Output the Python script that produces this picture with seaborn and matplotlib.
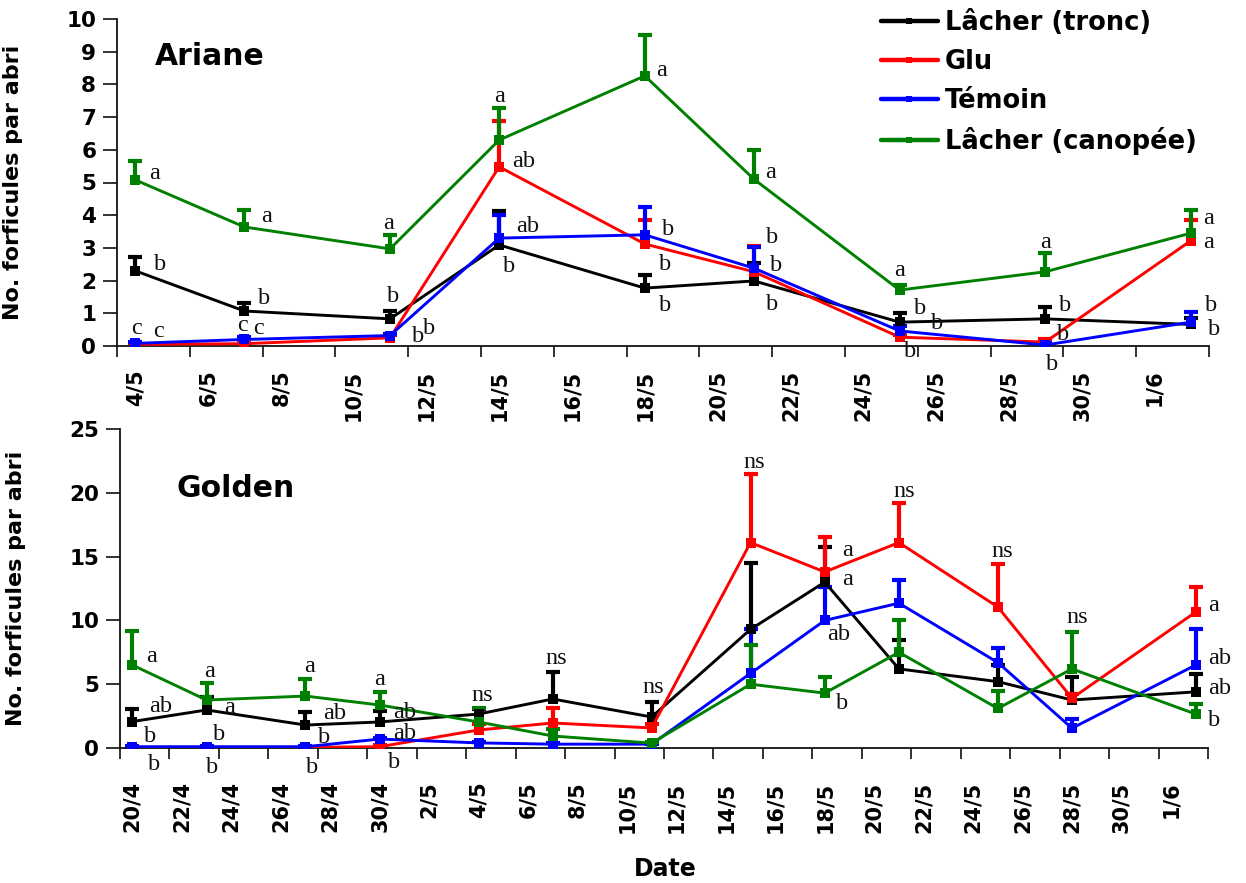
import numpy as np
import pandas as pd
import matplotlib
matplotlib.use("Agg")
import matplotlib.pyplot as plt
import seaborn as sns

# ---------------- data ----------------
series_names = ["Lâcher (tronc)", "Glu", "Témoin", "Lâcher (canopée)"]
series_colors = ["#000000", "#FF0000", "#0000FF", "#008000"]

# Ariane (top panel)
ariane_dates = ["4/5", "7/5", "11/5", "14/5", "18/5", "21/5", "25/5", "29/5", "2/6"]
ariane_tronc = [2.30, 1.07, 0.83, 3.09, 1.77, 1.99, 0.73, 0.83, 0.66]
ariane_tronc_err = [0.43, 0.23, 0.24, 1.05, 0.40, 0.54, 0.27, 0.37, 0.19]
ariane_glu = [0.05, 0.07, 0.25, 5.48, 3.12, 2.27, 0.27, 0.12, 3.22]
ariane_glu_err = [0.03, 0.03, 0.08, 1.40, 0.73, 0.79, 0.08, 0.08, 0.63]
ariane_temoin = [0.08, 0.20, 0.32, 3.30, 3.40, 2.38, 0.46, 0.03, 0.73]
ariane_temoin_err = [0.03, 0.06, 0.05, 0.70, 0.86, 0.65, 0.14, 0.05, 0.31]
ariane_canopee = [5.08, 3.64, 2.97, 6.30, 8.26, 5.10, 1.71, 2.27, 3.45]
ariane_canopee_err = [0.58, 0.52, 0.42, 0.98, 1.24, 0.90, 0.15, 0.57, 0.71]
ariane_ticklabels = ["4/5", "6/5", "8/5", "10/5", "12/5", "14/5", "16/5", "18/5",
                     "20/5", "22/5", "24/5", "26/5", "28/5", "30/5", "1/6"]
ariane_letters = [
    ("4/5", 5.29, 19, "a"), ("4/5", 2.48, 25, "b"), ("4/5", 0.55, 1, "c"), ("4/5", 0.43, 23, "c"),
    ("7/5", 3.95, 22, "a"), ("7/5", 1.44, 20, "b"), ("7/5", 0.64, -2, "c"), ("7/5", 0.52, 14, "c"),
    ("11/5", 3.76, -1, "a"), ("11/5", 1.50, 3, "b"), ("11/5", 0.28, 28, "b"), ("11/5", 0.55, 39, "b"),
    ("14/5", 7.62, 0, "a"), ("14/5", 5.63, 24, "ab"), ("14/5", 3.64, 28, "ab"), ("14/5", 2.42, 10, "b"),
    ("18/5", 8.41, 17, "a"), ("18/5", 3.55, 23, "b"), ("18/5", 2.48, 20, "b"), ("18/5", 1.25, 20, "b"),
    ("21/5", 5.32, 17, "a"), ("21/5", 3.33, 18, "b"), ("21/5", 2.45, 22, "b"), ("21/5", 1.28, 18, "b"),
    ("25/5", 2.32, 0, "a"), ("25/5", 1.16, 20, "b"), ("25/5", 0.70, 37, "b"), ("25/5", -0.18, 10, "b"),
    ("29/5", 3.18, 0, "a"), ("29/5", 1.25, 20, "b"), ("29/5", 0.34, 18, "b"), ("29/5", -0.58, 7, "b"),
    ("2/6", 3.91, 18, "a"), ("2/6", 3.18, 18, "a"), ("2/6", 1.25, 20, "b"), ("2/6", 0.49, 23, "b"),
]

# Golden (bottom panel)
golden_dates = ["20/4", "23/4", "27/4", "30/4", "4/5", "7/5", "11/5", "15/5", "18/5",
                "21/5", "25/5", "28/5", "2/6"]
golden_tronc = [2.07, 2.98, 1.80, 2.04, 2.66, 3.84, 2.43, 9.30, 13.00, 6.20, 5.20, 3.76, 4.40]
golden_tronc_err = [1.00, 1.00, 1.00, 0.86, 0.40, 2.12, 1.17, 5.20, 2.75, 2.26, 1.30, 1.80, 1.40]
golden_glu = [0.05, 0.05, 0.05, 0.10, 1.41, 1.96, 1.57, 16.10, 13.80, 16.10, 11.05, 3.90, 10.65]
golden_glu_err = [0.02, 0.02, 0.02, 0.10, 0.45, 1.17, 0.30, 5.40, 2.75, 3.10, 3.35, 0.30, 1.95]
golden_temoin = [0.10, 0.10, 0.10, 0.70, 0.40, 0.30, 0.30, 5.85, 10.00, 11.35, 6.70, 1.55, 6.50]
golden_temoin_err = [0.03, 0.03, 0.03, 0.10, 0.10, 0.10, 0.05, 3.45, 2.60, 1.85, 1.10, 0.75, 2.80]
golden_canopee = [6.50, 3.76, 4.07, 3.37, 2.04, 0.94, 0.38, 5.00, 4.30, 7.50, 3.10, 6.20, 2.66]
golden_canopee_err = [2.67, 1.34, 1.33, 1.03, 1.09, 0.55, 0.10, 3.07, 1.26, 2.50, 1.35, 2.90, 0.79]
golden_ticklabels = ["20/4", "22/4", "24/4", "26/4", "28/4", "30/4", "2/5", "4/5", "6/5", "8/5",
                     "10/5", "12/5", "14/5", "16/5", "18/5", "20/5", "22/5", "24/5", "26/5",
                     "28/5", "30/5", "1/6"]
golden_letters = [
    ("20/4", 7.21, 19, "a"), ("20/4", 3.29, 28, "ab"), ("20/4", 0.94, 18, "b"), ("20/4", -1.33, 22, "b"),
    ("23/4", 5.96, 3, "a"), ("23/4", 3.21, 23, "a"), ("23/4", 1.02, 13, "b"), ("23/4", -1.49, 6, "b"),
    ("27/4", 6.35, 4, "a"), ("27/4", 2.74, 29, "ab"), ("27/4", 0.86, 19, "b"), ("27/4", -1.49, 7, "b"),
    ("30/4", 5.33, 0, "a"), ("30/4", 2.82, 25, "ab"), ("30/4", 1.17, 25, "ab"), ("30/4", -1.17, 14, "b"),
    ("4/5", 4.15, 4, "ns"), ("7/5", 7.05, 4, "ns"), ("11/5", 4.78, 2, "ns"), ("15/5", 22.4, 4, "ns"),
    ("18/5", 15.5, 23, "a"), ("18/5", 13.17, 23, "a"), ("18/5", 8.86, 14, "ab"), ("18/5", 3.45, 17, "b"),
    ("21/5", 20.1, 5, "ns"), ("25/5", 15.4, 4, "ns"), ("28/5", 10.2, 5, "ns"),
    ("2/6", 11.2, 18, "a"), ("2/6", 7.05, 24, "ab"), ("2/6", 4.70, 24, "ab"), ("2/6", 2.12, 18, "b"),
]

YEAR = 2009


def day_num(s):
    d, m = (int(v) for v in s.split("/"))
    return pd.Timestamp(YEAR, m, d).dayofyear


def build_df(dates, values, errs):
    rows = []
    for name, vals, es in zip(series_names, values, errs):
        for d, v, e in zip(dates, vals, es):
            rows.append({"x": day_num(d) + 0.5, "value": v, "err": e, "series": name})
    return pd.DataFrame(rows)


sns.set_theme(style="white")
plt.rcParams["font.family"] = ["DejaVu Sans"]
plt.rcParams.update({"text.color": "black", "axes.labelcolor": "black",
                     "xtick.color": "black", "ytick.color": "black"})

fig = plt.figure(figsize=(12.46, 8.83), dpi=100)
ax1 = fig.add_axes([117 / 1246, 1 - 346 / 883, (1209 - 117) / 1246, (346 - 19) / 883])
ax2 = fig.add_axes([120 / 1246, 1 - 748 / 883, (1208 - 120) / 1246, (748 - 429) / 883])

palette = dict(zip(series_names, series_colors))

panels = [
    (ax1, ariane_dates, [ariane_tronc, ariane_glu, ariane_temoin, ariane_canopee],
     [ariane_tronc_err, ariane_glu_err, ariane_temoin_err, ariane_canopee_err],
     ariane_ticklabels, ariane_letters, "Ariane", (0, 10, 1), (0.085, 0.884), "4/5", "3/6"),
    (ax2, golden_dates, [golden_tronc, golden_glu, golden_temoin, golden_canopee],
     [golden_tronc_err, golden_glu_err, golden_temoin_err, golden_canopee_err],
     golden_ticklabels, golden_letters, "Golden", (0, 25, 5), (0.106, 0.815), "20/4", "3/6"),
]

for ax, dates, vals, errs, ticklabels, letters, title, ysp, tpos, xstart, xend in panels:
    df = build_df(dates, vals, errs)
    # error bars (upper only)
    for name in series_names:
        sub = df[df["series"] == name]
        eb = ax.errorbar(sub["x"], sub["value"], yerr=[np.zeros(len(sub)), sub["err"]],
                         fmt="none", ecolor=palette[name], elinewidth=3.0, capsize=5.2,
                         capthick=3.0, zorder=2)
        eb[1][0].set_visible(False)
    sns.lineplot(data=df, x="x", y="value", hue="series", hue_order=series_names,
                 palette=palette, marker="s", markersize=6.5, markeredgewidth=0,
                 linewidth=2.1, errorbar=None, estimator=None, sort=True,
                 legend=(ax is ax1), ax=ax, zorder=3)

    x0, x1 = day_num(xstart), day_num(xend)
    ax.set_xlim(x0, x1)
    ax.set_ylim(ysp[0], ysp[1])
    ax.set_yticks(np.arange(ysp[0], ysp[1] + 0.01, ysp[2]))
    ax.set_yticklabels([str(int(v)) for v in np.arange(ysp[0], ysp[1] + 0.01, ysp[2])],
                       fontsize=15.5, fontweight="bold")
    ax.set_xticks(np.arange(x0, x1 + 0.01, 2))
    ax.set_xticklabels([])
    ax.set_xticks([day_num(t) + 0.5 for t in ticklabels], minor=True)
    ax.set_xticklabels(ticklabels, minor=True, rotation=90, fontsize=15, fontweight="bold")
    ax.tick_params(axis="x", which="major", direction="out", length=8, width=1.3,
                   color="#222222", bottom=True)
    ax.tick_params(axis="x", which="minor", length=0, pad=17 if ax is ax1 else 24, bottom=True)
    ax.tick_params(axis="y", direction="out", length=10, width=1.3, color="#222222",
                   left=True, pad=5)
    for sp in ["top", "right"]:
        ax.spines[sp].set_visible(False)
    for sp in ["left", "bottom"]:
        ax.spines[sp].set_color("#111111")
        ax.spines[sp].set_linewidth(1.3)
    ax.set_xlabel("")
    ax.set_ylabel("No. forficules par abri", fontsize=16, fontweight="bold")
    ax.yaxis.set_label_coords(-0.086, 0.5)
    ax.text(tpos[0], tpos[1], title, transform=ax.transAxes, ha="center", va="center",
            fontsize=21.5, fontweight="bold")
    xmap = {d: day_num(d) + 0.5 for d in dates}
    for d, yv, dx, txt in letters:
        ax.annotate(txt, xy=(xmap[d], yv), xytext=(dx, 0), textcoords="offset pixels",
                    ha="center", va="center", fontsize=17.5, family="Liberation Serif",
                    color="#111111", annotation_clip=False, zorder=5)

# legend
handles, labels = ax1.get_legend_handles_labels()
if ax1.get_legend() is not None:
    ax1.get_legend().remove()
for h in handles:
    h.set_linewidth(3.2)
    h.set_markersize(5)
fig.legend(handles, labels, loc="upper left", bbox_to_anchor=(881 / 1246, 1 - 10 / 883),
           frameon=False, borderpad=0, borderaxespad=0, handlelength=2.2,
           handletextpad=0.3, labelspacing=0.5,
           prop={"size": 18.5, "weight": "bold"})

fig.text(665 / 1246, 1 - 869 / 883, "Date", ha="center", va="center",
         fontsize=17, fontweight="bold")

fig.savefig("out.png", dpi=100)
